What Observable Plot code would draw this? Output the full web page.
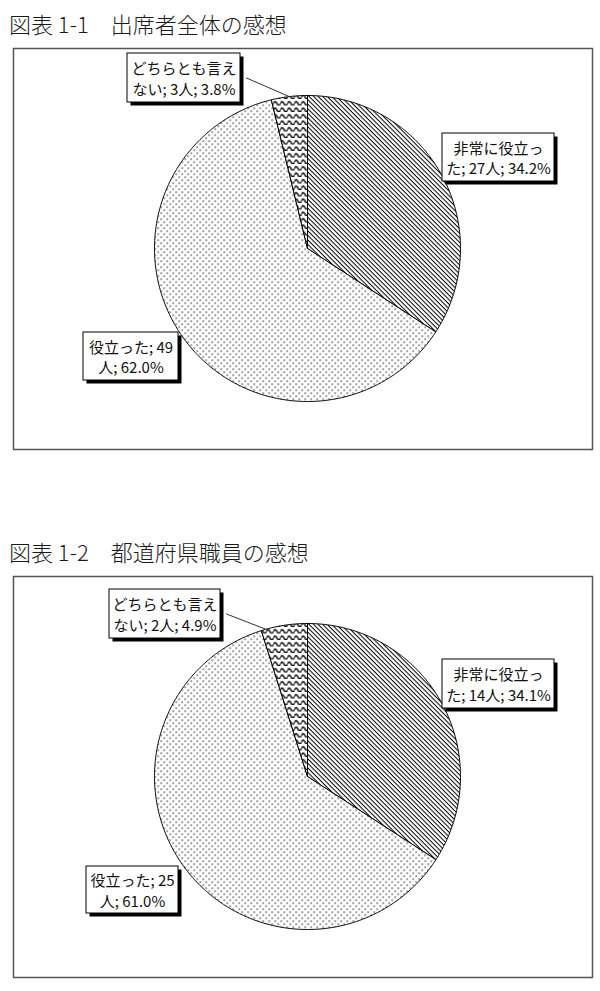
<!DOCTYPE html>
<html><head><meta charset="utf-8">
<script src="https://cdn.jsdelivr.net/npm/d3@7"></script>
<script src="https://cdn.jsdelivr.net/npm/@observablehq/plot@0.6"></script>
<style>
body{margin:0;background:#fff;font-family:"Noto Sans CJK JP",sans-serif;}
.title{height:40px;font-size:22px;line-height:22px;padding:12px 0 0 9px;box-sizing:border-box;color:#1a1a1a;white-space:pre;font-weight:300;}
svg{display:block;}
</style></head><body><div id="c"></div>
<script>
// ---- data ----
const categories = ["非常に役立った", "役立った", "どちらとも言えない"];
const chart1Title = "図表 1-1　出席者全体の感想";
const chart1Counts = [27, 49, 3];
const chart1Percents = ["34.2%", "62.0%", "3.8%"];
const chart2Title = "図表 1-2　都道府県職員の感想";
const chart2Counts = [14, 25, 2];
const chart2Percents = ["34.1%", "61.0%", "4.9%"];
// where each data label wraps (character index)
const labelBreaks = [6, 8, 7];

// ---- layout (pixels inside each svg) ----
const layouts = [
  {height: 488, cx: 307, cy: 208, r: 153,
   boxes: [[442, 93, 554, 141], [83, 292, 178, 340], [127, 13, 240, 62]], leaderT: 0.5},
  {height: 423, cx: 307, cy: 208, r: 153,
   boxes: [[442, 91, 554, 140], [86, 298, 178, 345], [109, 21, 220, 70]], leaderT: 0.1}
];
const patternNames = ["hatch", "dots", "wave"];

function makeChart(title, counts, percents, L, id) {
  const wrap = document.createElement("div");
  const t = document.createElement("div");
  t.className = "title"; t.textContent = title;
  wrap.appendChild(t);

  const arcs = d3.pie().sort(null).value(d => d)(counts);
  const pts = [];
  arcs.forEach((a, i) => {
    pts.push({k: i, x: 0, y: 0});
    const n = Math.max(2, Math.ceil((a.endAngle - a.startAngle) / 0.01));
    for (let j = 0; j <= n; j++) {
      const th = a.startAngle + (a.endAngle - a.startAngle) * j / n;
      pts.push({k: i, x: Math.sin(th), y: Math.cos(th)});
    }
    pts.push({k: i, x: 0, y: 0});
  });

  const ux = px => (px - L.cx) / L.r;
  const uy = py => (L.cy - py) / L.r;
  const sh = 3.5;
  const labels = categories.map((c, i) => {
    const full = `${c}; ${counts[i]}人; ${percents[i]}`;
    const b = L.boxes[i];
    return {
      text: full.slice(0, labelBreaks[i]) + "\n" + full.slice(labelBreaks[i]),
      x1: ux(b[0]), x2: ux(b[2]), y1: uy(b[1]), y2: uy(b[3]),
      sx1: ux(b[0] + sh), sx2: ux(b[2] + sh), sy1: uy(b[1] + sh), sy2: uy(b[3] + sh),
      cx: ux((b[0] + b[2]) / 2), cy: uy((b[1] + b[3]) / 2)
    };
  });
  // leader line for the small slice
  const small = arcs[2];
  const th = small.startAngle + (small.endAngle - small.startAngle) * L.leaderT;
  const bA = L.boxes[2];
  const leader = [
    {x: ux(bA[2] + 6), y: uy((bA[1] + bA[3]) / 2)},
    {x: Math.sin(th), y: Math.cos(th)}
  ];

  const defs = () => {
    const d = document.createElementNS("http://www.w3.org/2000/svg", "defs");
    d.innerHTML = `
      <pattern id="hatch${id}" patternUnits="userSpaceOnUse" width="3.2" height="3.2" patternTransform="rotate(45)">
        <rect width="3.2" height="3.2" fill="white"/>
        <line x1="0" y1="0.5" x2="3.2" y2="0.5" stroke="black" stroke-width="1"/>
      </pattern>
      <pattern id="dots${id}" patternUnits="userSpaceOnUse" width="6" height="6">
        <rect width="6" height="6" fill="white"/>
        <rect x="1" y="1" width="1.3" height="1.3" fill="#222"/>
        <rect x="4" y="4" width="1.3" height="1.3" fill="#222"/>
      </pattern>
      <pattern id="wave${id}" patternUnits="userSpaceOnUse" width="7" height="6.5">
        <rect width="7" height="6.5" fill="white"/>
        <path d="M0 4.5 Q1.75 0.5 3.5 4.5 T7 4.5" fill="none" stroke="black" stroke-width="1.4"/>
      </pattern>`;
    return d;
  };

  const plot = Plot.plot({
    width: 600, height: L.height,
    marginLeft: 13, marginTop: 8, marginRight: 8, marginBottom: L.height - 409,
    x: {domain: [-1, 1], range: [L.cx - L.r, L.cx + L.r], axis: null},
    y: {domain: [-1, 1], range: [L.cy + L.r, L.cy - L.r], axis: null},
    color: {type: "identity"},
    marks: [
      defs,
      Plot.frame({stroke: "#555", strokeWidth: 1.5}),
      Plot.line(pts, {x: "x", y: "y", z: "k", fill: d => `url(#${patternNames[d.k]}${id})`,
        stroke: "black", strokeWidth: 1, strokeLinejoin: "round"}),
      Plot.line(leader, {x: "x", y: "y", stroke: "#333", strokeWidth: 1}),
      Plot.rect(labels, {x1: "sx1", x2: "sx2", y1: "sy1", y2: "sy2", fill: "black"}),
      Plot.rect(labels, {x1: "x1", x2: "x2", y1: "y1", y2: "y2", fill: "white", stroke: "black", strokeWidth: 1}),
      Plot.text(labels, {x: "cx", y: "cy", text: "text", fontSize: 15, lineHeight: 1.35,
        fill: "#111", fontFamily: "Noto Sans CJK JP", lineAnchor: "middle"})
    ]
  });
  wrap.appendChild(plot);
  return wrap;
}

const root = document.getElementById("c");
root.appendChild(makeChart(chart1Title, chart1Counts, chart1Percents, layouts[0], 1));
root.appendChild(makeChart(chart2Title, chart2Counts, chart2Percents, layouts[1], 2));
</script></body></html>
